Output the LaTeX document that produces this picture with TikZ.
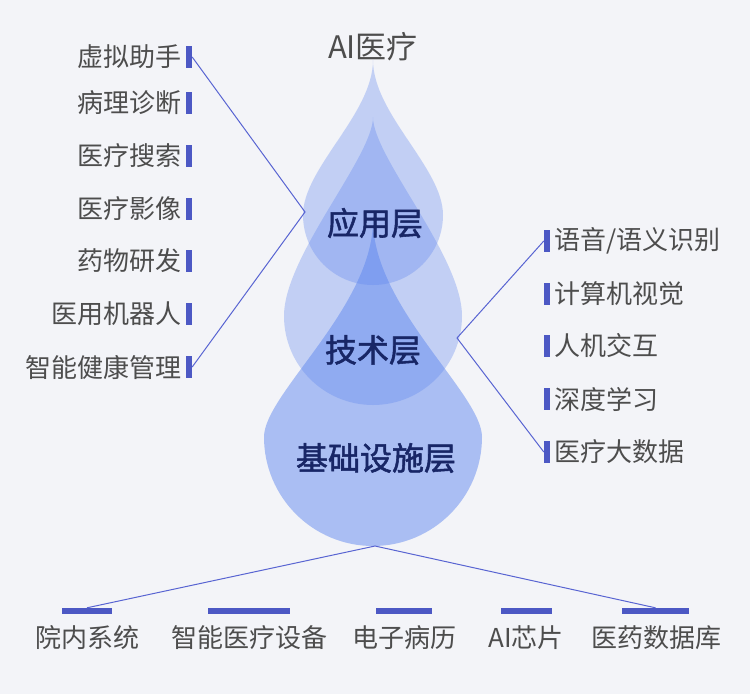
\documentclass[tikz,border=0pt]{standalone}
\usepackage{fontspec}
\setmainfont{Noto Sans CJK SC}
\newfontfamily\layerfont{Noto Sans CJK SC}[UprightFeatures={FakeBold=1.6}]
\definecolor{bgcol}{RGB}{243,244,248}
\definecolor{dropblue}{RGB}{92,132,238}
\definecolor{barblue}{RGB}{76,88,196}
\definecolor{lineblue}{RGB}{88,100,210}
\definecolor{labelgray}{RGB}{77,77,77}
\definecolor{navy}{RGB}{24,38,102}
\tikzset{
  lbl/.style={font=\fontsize{26}{30}\selectfont, text=labelgray, inner sep=0pt},
  layer/.style={font=\fontsize{32}{36}\selectfont\layerfont, text=navy, inner sep=0pt},
  title/.style={font=\fontsize{31}{35}\selectfont, text=labelgray, inner sep=0pt},
  bar/.style={fill=barblue, inner sep=0pt, minimum width=6pt, minimum height=22pt},
  hbar/.style={fill=barblue, inner sep=0pt, minimum height=6pt},
  link/.style={draw=lineblue, line width=1pt},
  drop/.style={fill=dropblue, draw=none},
}
\begin{document}
\begin{tikzpicture}[x=1pt, y=-1pt]
\fill[bgcol] (0,0) rectangle (750,694);
% drops
\fill[drop, fill opacity=0.48] (373,220) .. controls (373,307) and (264,394) .. (264,437) .. controls (264,497.2) and (312.8,546) .. (373,546) .. controls (433.2,546) and (482,497.2) .. (482,437) .. controls (482,394) and (373,307) .. (373,220) -- cycle;
\fill[drop, fill opacity=0.32] (373,117) .. controls (373,157) and (284,256) .. (284,316) .. controls (284,365.2) and (323.8,405) .. (373,405) .. controls (422.2,405) and (462,365.2) .. (462,316) .. controls (462,256) and (373,157) .. (373,117) -- cycle;
\fill[drop, fill opacity=0.32] (373,60) .. controls (373,114) and (303,168) .. (303,215) .. controls (303,253.7) and (334.3,285) .. (373,285) .. controls (411.7,285) and (443,253.7) .. (443,215) .. controls (443,168) and (373,114) .. (373,60) -- cycle;
\node[title] (ai) at (373,47) {AI医疗};
\node[layer] (app) at (375,223) {应用层};
\node[layer] (tech) at (373,350) {技术层};
\node[layer] (base) at (376,458) {基础设施层};
% left
\node[lbl, anchor=east] (l1) at (182,57) {虚拟助手};
\node[lbl, anchor=east] (l2) at (182,103) {病理诊断};
\node[lbl, anchor=east] (l3) at (182,156) {医疗搜索};
\node[lbl, anchor=east] (l4) at (182,209) {医疗影像};
\node[lbl, anchor=east] (l5) at (182,261) {药物研发};
\node[lbl, anchor=east] (l6) at (182,314) {医用机器人};
\node[lbl, anchor=east] (l7) at (182,367) {智能健康管理};
\node[bar] (lb1) at (189,57) {};
\node[bar] (lb2) at (189,103) {};
\node[bar] (lb3) at (189,156) {};
\node[bar] (lb4) at (189,209) {};
\node[bar] (lb5) at (189,261) {};
\node[bar] (lb6) at (189,314) {};
\node[bar] (lb7) at (189,367) {};
% right
\node[lbl, anchor=west] (r1) at (554,241) {语音/语义识别};
\node[lbl, anchor=west] (r2) at (554,294) {计算机视觉};
\node[lbl, anchor=west] (r3) at (554,346) {人机交互};
\node[lbl, anchor=west] (r4) at (554,399) {深度学习};
\node[lbl, anchor=west] (r5) at (554,452) {医疗大数据};
\node[bar] (rb1) at (547,241) {};
\node[bar] (rb2) at (547,294) {};
\node[bar] (rb3) at (547,346) {};
\node[bar] (rb4) at (547,399) {};
\node[bar] (rb5) at (547,452) {};
% bottom
\node[lbl] (b1) at (87.5,638) {院内系统};
\node[lbl] (b2) at (249,638) {智能医疗设备};
\node[lbl] (b3) at (404,638) {电子病历};
\node[lbl] (b4) at (526,638) {AI芯片};
\node[lbl] (b5) at (656,638) {医药数据库};
\node[hbar, minimum width=50pt] (bb1) at (87,611) {};
\node[hbar, minimum width=82pt] (bb2) at (249,611) {};
\node[hbar, minimum width=56pt] (bb3) at (404,611) {};
\node[hbar, minimum width=51pt] (bb4) at (526.5,611) {};
\node[hbar, minimum width=67pt] (bb5) at (655.5,611) {};
% connectors
\coordinate (lj) at (305,212);
\coordinate (rj) at (457,338);
\coordinate (bj) at (375,546);
\draw[link] (lb1.east) -- (lj) -- (lb7.east);
\draw[link] (rb1.west) -- (rj) -- (rb5.west);
\draw[link] (bb1.north) -- (bj) -- (bb5.north);
\end{tikzpicture}
\end{document}
